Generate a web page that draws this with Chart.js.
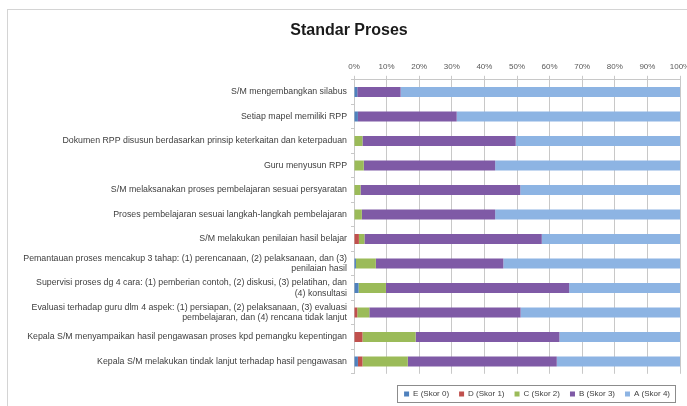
<!DOCTYPE html>
<html>
<head>
<meta charset="utf-8">
<script src="https://cdn.jsdelivr.net/npm/chart.js@4"></script>
<style>
  html, body { margin: 0; padding: 0; background: #fff; }
  #frame { position: absolute; left: 7px; top: 9px; width: 700px; height: 420px; border: 1px solid #d4d4d4; }
  #wrap { position: absolute; left: 0; top: 0; width: 687px; height: 406px; }
</style>
</head>
<body>
<div id="frame"></div>
<div id="wrap"><canvas id="chart" width="687" height="406"></canvas></div>
<script>
// Standar Proses - 100% stacked horizontal bars

const categories = [
  'S/M mengembangkan silabus',
  'Setiap mapel memiliki RPP',
  'Dokumen RPP disusun berdasarkan prinsip keterkaitan dan keterpaduan',
  'Guru menyusun RPP',
  'S/M melaksanakan proses pembelajaran sesuai persyaratan',
  'Proses pembelajaran sesuai langkah-langkah pembelajaran',
  'S/M melakukan penilaian hasil belajar',
  ['Pemantauan proses mencakup 3 tahap: (1) perencanaan, (2) pelaksanaan, dan (3)', 'penilaian hasil'],
  ['Supervisi proses dg 4 cara: (1) pemberian contoh, (2) diskusi, (3) pelatihan, dan', '(4) konsultasi'],
  ['Evaluasi terhadap guru dlm 4 aspek: (1) persiapan, (2) pelaksanaan, (3) evaluasi', 'pembelajaran, dan (4) rencana tidak lanjut'],
  'Kepala S/M menyampaikan hasil pengawasan proses kpd pemangku kepentingan',
  'Kepala S/M melakukan tindak lanjut terhadap hasil pengawasan'
];

// percentages per category
const skorE = [1.0, 1.2, 0, 0, 0, 0, 0, 0.6, 1.4, 0, 0, 1.2];
const skorD = [0, 0, 0, 0, 0, 0, 1.5, 0, 0, 1.0, 2.6, 1.4];
const skorC = [0, 0, 2.6, 3.0, 2.0, 2.4, 1.7, 6.1, 8.4, 3.7, 16.3, 13.9];
const skorB = [13.3, 30.3, 47.0, 40.3, 49.0, 40.9, 54.4, 39.1, 56.2, 46.4, 44.1, 45.7];
const skorA = [85.7, 68.5, 50.4, 56.7, 49.0, 56.7, 42.4, 54.2, 34.0, 48.9, 37.0, 37.8];

const seriesNames = ['E (Skor 0)', 'D (Skor 1)', 'C (Skor 2)', 'B (Skor 3)', 'A (Skor 4)'];
const seriesColors = ['#4f81bd', '#c0504d', '#9bbb59', '#7f5aa6', '#8db4e3'];
const seriesData = [skorE, skorD, skorC, skorB, skorA];

const textColor = '#404040';
const gridColor = '#c8c8c8';
const font = 'Liberation Sans';

// border around legend entries
const legendBox = {
  id: 'legendBox',
  afterDraw(chart) {
    const boxes = chart.legend && chart.legend.legendHitBoxes;
    if (!boxes || !boxes.length) return;
    let l = Infinity, r = -Infinity, t = Infinity, b = -Infinity;
    boxes.forEach(h => {
      l = Math.min(l, h.left); r = Math.max(r, h.left + h.width);
      t = Math.min(t, h.top); b = Math.max(b, h.top + h.height);
    });
    const ctx = chart.ctx;
    ctx.save();
    ctx.strokeStyle = '#8c8c8c';
    ctx.lineWidth = 1;
    ctx.strokeRect(Math.round(l - 7) + 0.5, Math.round(t - 5) + 0.5, Math.round(r - l + 12), Math.round(b - t + 9));
    ctx.restore();
  }
};

new Chart(document.getElementById('chart'), {
  type: 'bar',
  data: {
    labels: categories,
    datasets: seriesData.map((d, i) => ({
      label: seriesNames[i],
      data: d,
      backgroundColor: seriesColors[i],
      borderWidth: 0,
      barPercentage: 0.41,
      categoryPercentage: 1
    }))
  },
  options: {
    indexAxis: 'y',
    responsive: false,
    animation: false,
    devicePixelRatio: 1,
    layout: { padding: { left: 18, right: 7, top: 8, bottom: -2 } },
    plugins: {
      title: {
        display: true,
        text: 'Standar Proses',
        color: '#1a1a1a',
        font: { family: font, size: 16, weight: 'bold' },
        padding: { top: 13, bottom: 18 }
      },
      legend: {
        position: 'bottom',
        align: 'end',
        // empty title only used as a spacer above the entries
        title: { display: true, text: '', font: { size: 1 }, padding: { top: 5, bottom: 0 } },
        labels: {
          boxWidth: 5, boxHeight: 5, padding: 10,
          color: textColor,
          font: { family: font, size: 8 }
        }
      },
      tooltip: { enabled: false }
    },
    scales: {
      x: {
        position: 'top',
        stacked: true,
        min: 0, max: 100,
        // let the 100% label run off the edge like the original
        afterFit: s => { s.paddingLeft = 0; s.paddingRight = 0; },
        ticks: {
          stepSize: 10,
          color: '#595959',
          font: { family: font, size: 8 },
          padding: 4,
          callback: v => v + '%'
        },
        grid: { color: gridColor, tickLength: 4, tickColor: gridColor },
        border: { color: gridColor }
      },
      y: {
        stacked: true,
        afterFit: s => { s.width = 336; },
        ticks: {
          color: textColor,
          font: { family: font, size: 8.8, lineHeight: 1.15 },
          padding: 4,
          autoSkip: false
        },
        grid: { offset: true, drawOnChartArea: false, tickLength: 3, tickColor: gridColor },
        border: { color: gridColor }
      }
    }
  },
  plugins: [legendBox]
});
</script>
</body>
</html>
